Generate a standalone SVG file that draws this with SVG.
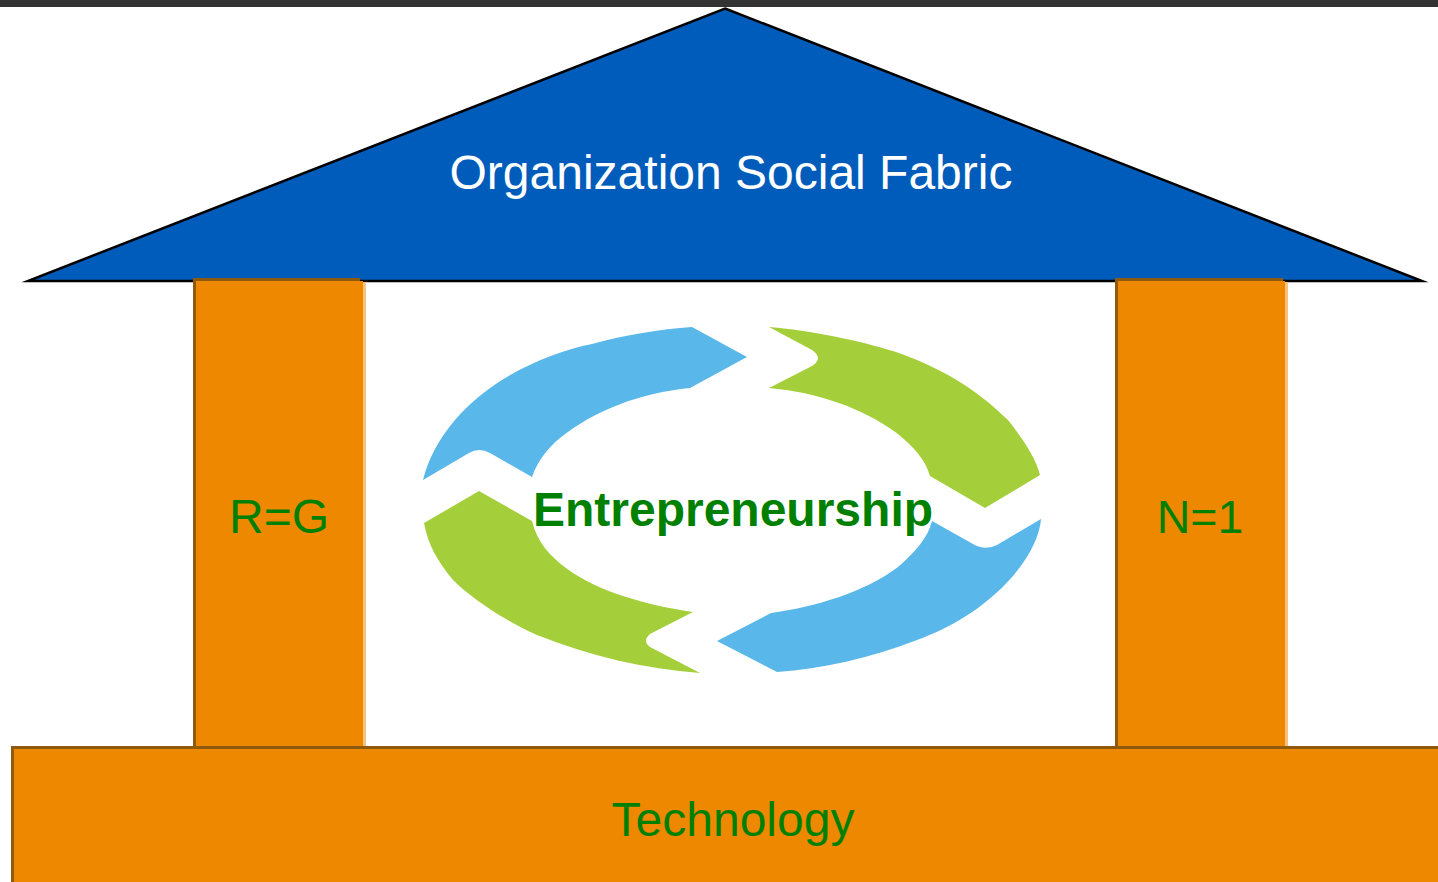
<svg xmlns="http://www.w3.org/2000/svg" width="1438" height="882" viewBox="0 0 1438 882">
<style>
text{font-family:"Liberation Sans",Arial,sans-serif;text-anchor:middle}
.g{fill:#008000}
.l{font-size:48px}
.o{fill:#EE8800}
.e{fill:#8F5A0E}
.p{fill:#F8C27E}
.blue{fill:#5AB7E9}
.green{fill:#A5CF3A}
</style>
<rect width="1438" height="882" fill="#fff"/>
<rect width="1438" height="7" fill="#333"/>
<g id="roof">
<polygon points="725,8.500 1422,281 28,281" fill="#005CBB" stroke="#000" stroke-width="2.500" stroke-linejoin="miter" stroke-miterlimit="6"/>
<text x="731" y="189" class="l" fill="#fff">Organization Social Fabric</text>
</g>
<g id="pillar-left">
<rect x="363" y="282" width="3" height="465" class="p"/>
<rect x="193" y="281" width="170" height="466" class="o"/>
<rect x="193" y="278" width="3" height="469" class="e"/>
<rect x="193" y="278" width="167" height="3" class="e"/>
<text x="279" y="532.500" class="l g">R=G</text>
</g>
<g id="pillar-right">
<rect x="1285" y="282" width="3" height="465" class="p"/>
<rect x="1115" y="281" width="170" height="466" class="o"/>
<rect x="1115" y="278" width="3" height="469" class="e"/>
<rect x="1115" y="278" width="168" height="3" class="e"/>
<text x="1200" y="532.500" font-size="46.500" class="g">N=1</text>
</g>
<g id="base">
<rect x="11" y="746" width="1427" height="136" class="o"/>
<rect x="11" y="746" width="3" height="136" class="e"/>
<rect x="11" y="746" width="1427" height="3" class="e"/>
<text x="733" y="836" class="l g">Technology</text>
</g>
<g id="connectors">
<path class="blue" d="M692,327 L747,357 L690,388 C640,393 595,410 560,438 C548,448 538,460 532,477 L490,453 Q479,447 469,453 L423,480 C428,460 438,440 455,420 C490,378 550,352 592,344 C625,335 660,329 692,327Z"/>
<path class="green" d="M769,327 C815,331 860,341 893,351 C940,367 975,388 1008,420 C1022,438 1036,458 1040,475 L985,508 L930,476 C925,458 912,446 898,434 C862,407 815,392 769,388 L810,367 Q818,363 818,358 Q817,353 812,350Z"/>
<path class="green" d="M479,491 L532,521 C537,542 550,556 566,568 C598,592 650,606 693,612 L650,634 Q642,641 650,647 L700,673 C645,669 590,656 537,635 C495,616 465,592 453,580 C438,562 428,545 424,523Z"/>
<path class="blue" d="M717,641 L771,613 C815,607 865,592 898,567 C914,553 928,538 932,521 L973,544 Q985,551 997,545 L1041,519 C1040,535 1030,556 1013,576 C985,608 950,628 917,640 C870,658 822,669 777,672Z"/>
</g>
<g id="center">
<text x="733" y="526" font-size="48" font-weight="bold" class="g">Entrepreneurship</text>
</g>
</svg>
